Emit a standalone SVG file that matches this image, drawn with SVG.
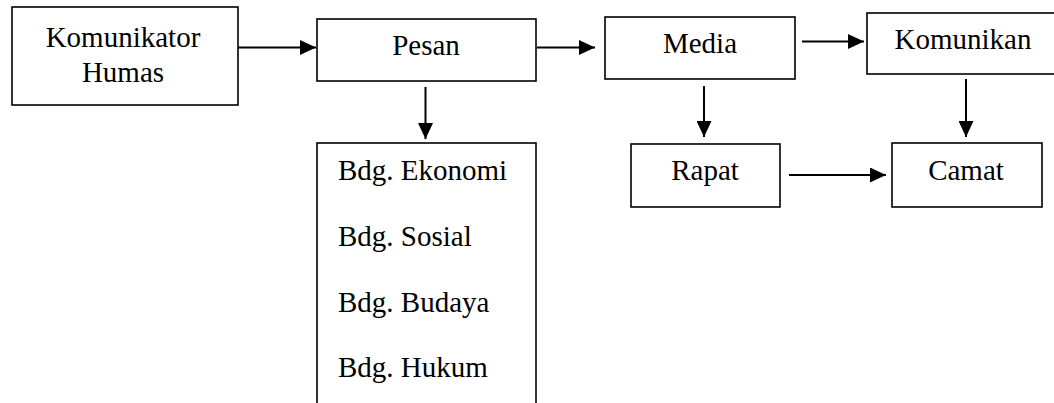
<svg xmlns="http://www.w3.org/2000/svg" width="1054" height="403" viewBox="0 0 1054 403">
<defs>
<style>
.box{fill:#fff;stroke:#000;stroke-width:1.6}
.t{font-family:"Liberation Serif","Times New Roman",serif;font-size:29px;fill:#000}
.c{text-anchor:middle}
.ln{stroke:#000;stroke-width:2;fill:none}
</style>
<marker id="ah" markerWidth="16" markerHeight="15" refX="16" refY="7.5" orient="auto" markerUnits="userSpaceOnUse">
<path d="M0,0 L16,7.5 L0,15 Z" fill="#000"/>
</marker>
</defs>
<rect width="1054" height="403" fill="#fff"/>
<g id="connectors">
<line class="ln" x1="238" y1="47.5" x2="316" y2="47.5" marker-end="url(#ah)"/>
<line class="ln" x1="537" y1="47.5" x2="595" y2="47.5" marker-end="url(#ah)"/>
<line class="ln" x1="802" y1="41.5" x2="864" y2="41.5" marker-end="url(#ah)"/>
<line class="ln" x1="425.5" y1="87" x2="425.5" y2="139" marker-end="url(#ah)"/>
<line class="ln" x1="704" y1="86" x2="704" y2="137" marker-end="url(#ah)"/>
<line class="ln" x1="966" y1="79" x2="966" y2="137" marker-end="url(#ah)"/>
<line class="ln" x1="789" y1="175" x2="886" y2="175" marker-end="url(#ah)"/>
</g>
<g id="komunikator">
<rect class="box" x="12" y="7" width="226" height="98"/>
<text class="t c" x="123" y="47">Komunikator</text>
<text class="t c" x="123" y="82">Humas</text>
</g>
<g id="pesan">
<rect class="box" x="317" y="19" width="219" height="62"/>
<text class="t c" x="426" y="55">Pesan</text>
</g>
<g id="media">
<rect class="box" x="605" y="17" width="190" height="62"/>
<text class="t c" x="700" y="53">Media</text>
</g>
<g id="komunikan">
<rect class="box" x="867" y="13" width="195" height="61"/>
<text class="t c" x="963" y="49">Komunikan</text>
</g>
<g id="bidang">
<rect class="box" x="317" y="143" width="219" height="280"/>
<text class="t" x="338" y="180">Bdg. Ekonomi</text>
<text class="t" x="338" y="246">Bdg. Sosial</text>
<text class="t" x="338" y="312">Bdg. Budaya</text>
<text class="t" x="338" y="377">Bdg. Hukum</text>
</g>
<g id="rapat">
<rect class="box" x="631" y="144" width="149" height="63"/>
<text class="t c" x="705" y="180">Rapat</text>
</g>
<g id="camat">
<rect class="box" x="892" y="143" width="150" height="64"/>
<text class="t c" x="966" y="180">Camat</text>
</g>
</svg>
